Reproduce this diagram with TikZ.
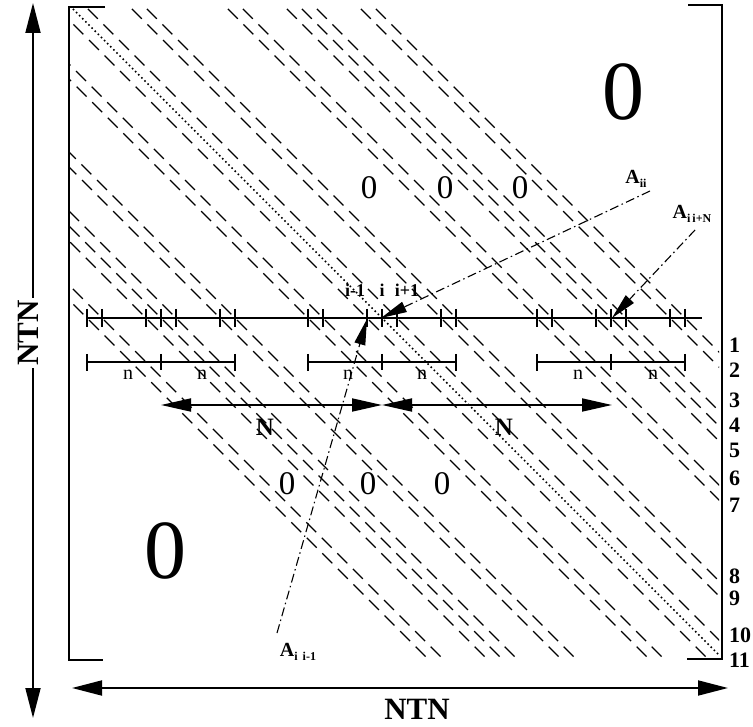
\documentclass[tikz,border=0pt]{standalone}
\usepackage{fontspec}
\setmainfont{Liberation Serif}
\usetikzlibrary{arrows.meta}
\newcommand{\mylabA}[1]{{\fontsize{20}{20}\selectfont\bfseries A}\raisebox{-4pt}{\fontsize{12}{12}\selectfont\bfseries #1}}
\begin{document}
\begin{tikzpicture}[x=1pt,y=-1pt,
  dline/.style={line width=1.3pt, dash pattern=on 14pt off 8pt},
  dotline/.style={line width=1.5pt, dash pattern=on 1.6pt off 2.8pt},
  bracket/.style={line width=1.8pt},
  rowline/.style={line width=1.6pt},
  tickline/.style={line width=1.3pt},
  bigarrow/.style={line width=1.8pt, {Triangle[length=30pt,width=15pt]}-{Triangle[length=30pt,width=15pt]}},
  narrow/.style={line width=1.8pt, {Triangle[length=30pt,width=13pt]}-{Triangle[length=30pt,width=13pt]}},
  leader/.style={line width=1.1pt, dash pattern=on 9pt off 3.5pt on 1.5pt off 3.5pt, -{Triangle[length=26pt,width=11pt]}},
  nlbl/.style={font=\fontsize{20}{20}\selectfont, inner sep=0pt},
  Nlbl/.style={font=\fontsize{25}{25}\selectfont\bfseries, inner sep=0pt},
  ilbl/.style={font=\fontsize{18}{18}\selectfont\bfseries, inner sep=0pt, anchor=base},
  numlbl/.style={font=\fontsize{22}{22}\selectfont\bfseries, inner sep=0pt, anchor=west},
  zsmall/.style={font=\fontsize{33}{33}\selectfont, inner sep=0pt},
  zbig/.style={font=\fontsize{84}{84}\selectfont, inner sep=0pt},
  ntn/.style={font=\fontsize{31}{31}\selectfont\bfseries, inner sep=2pt},
  alab/.style={inner sep=0pt}
]
\useasboundingbox (0,0) rectangle (753,727);

% diagonals
\begin{scope}
  \clip (70,9) rectangle (719,657);
  \foreach \c in {-10,5,49,79,123,138,219,234,278,293,308,352,367,-231,-216,-172,-157,-142,-98,-83}
    \draw[dline] (\c-100,-100) -- (\c+800,800);
  \draw[dotline] (64-100,-100) -- (864,800);
\end{scope}

% brackets
\draw[bracket] (105,7) -- (69,7) -- (69,660) -- (103,660);
\draw[bracket] (688,5) -- (722,5) -- (722,659) -- (687,659);

% row line with ticks
\draw[rowline] (88,318) -- (702,318);
\foreach \c in {-10,5,49,64,79,123,138,219,234,278,293,308,352,367,-231,-216,-172,-157,-142,-98,-83}
  \draw[tickline] (318+\c,309) -- (318+\c,327);

% n segments
\foreach \a/\m/\b in {87/161/235, 308/382/456, 537/611/685}{
  \draw[rowline] (\a,362) -- (\b,362);
  \draw[tickline] (\a,354) -- (\a,371);
  \draw[tickline] (\m,354) -- (\m,370);
  \draw[tickline] (\b,354) -- (\b,371);
}
\node[nlbl] (n1) at (128,375) {n};
\node[nlbl] (n2) at (202,375) {n};
\node[nlbl] (n3) at (348,375) {n};
\node[nlbl] (n4) at (422,375) {n};
\node[nlbl] (n5) at (578,375) {n};
\node[nlbl] (n6) at (653,375) {n};

% N arrows
\coordinate (NL) at (161,405);
\coordinate (NC) at (382,405);
\coordinate (NR) at (612,405);
\draw[narrow] (NL) -- (NC);
\draw[narrow] (NC) -- (NR);
\node[Nlbl] (N1) at (265,427) {N};
\node[Nlbl] (N2) at (504,427) {N};

% index labels
\node[ilbl] (im1) at (355,297) {i-1};
\node[ilbl] (ii) at (382,297) {i};
\node[ilbl] (ip1) at (407,297) {i+1};

% A labels and leaders
\node[alab] (Aii) at (636,179) {\mylabA{ii}};
\node[alab] (AiN) at (692,214) {\mylabA{i\,i+N}};
\node[alab] (Aim) at (298,652) {\mylabA{i\ \,i-1}};
\coordinate (AiiS) at (650,191);
\coordinate (AiiT) at (381,318);
\coordinate (AiNS) at (695,230);
\coordinate (AiNT) at (612,318);
\coordinate (AimS) at (277,633);
\coordinate (AimT) at (367,319);
\draw[leader] (AiiS) -- (AiiT);
\draw[leader] (AiNS) -- (AiNT);
\draw[leader] (AimS) -- (AimT);

% zeros
\node[zbig] (zU) at (623,92) {0};
\node[zbig] (zL) at (165,551) {0};
\node[zsmall] (z1) at (369,188) {0};
\node[zsmall] (z2) at (445,188) {0};
\node[zsmall] (z3) at (520,188) {0};
\node[zsmall] (z4) at (287,484) {0};
\node[zsmall] (z5) at (368,484) {0};
\node[zsmall] (z6) at (442,484) {0};

% row numbers
\foreach \t/\y in {1/345,2/370,3/400,4/425,5/450,6/478,7/505,8/576,9/598,10/635,11/660}
  \node[numlbl] (num\t) at (729,\y) {\t};

% NTN arrows
\coordinate (vT) at (33,3);
\coordinate (vB) at (33,718);
\coordinate (hL) at (72,688);
\coordinate (hR) at (728,688);
\draw[bigarrow] (vT) -- (vB);
\draw[bigarrow] (hL) -- (hR);
\node[ntn, rotate=90, fill=white] (ntnL) at (28,333) {NTN};
\node[ntn] (ntnB) at (417,709) {NTN};
\end{tikzpicture}
\end{document}
